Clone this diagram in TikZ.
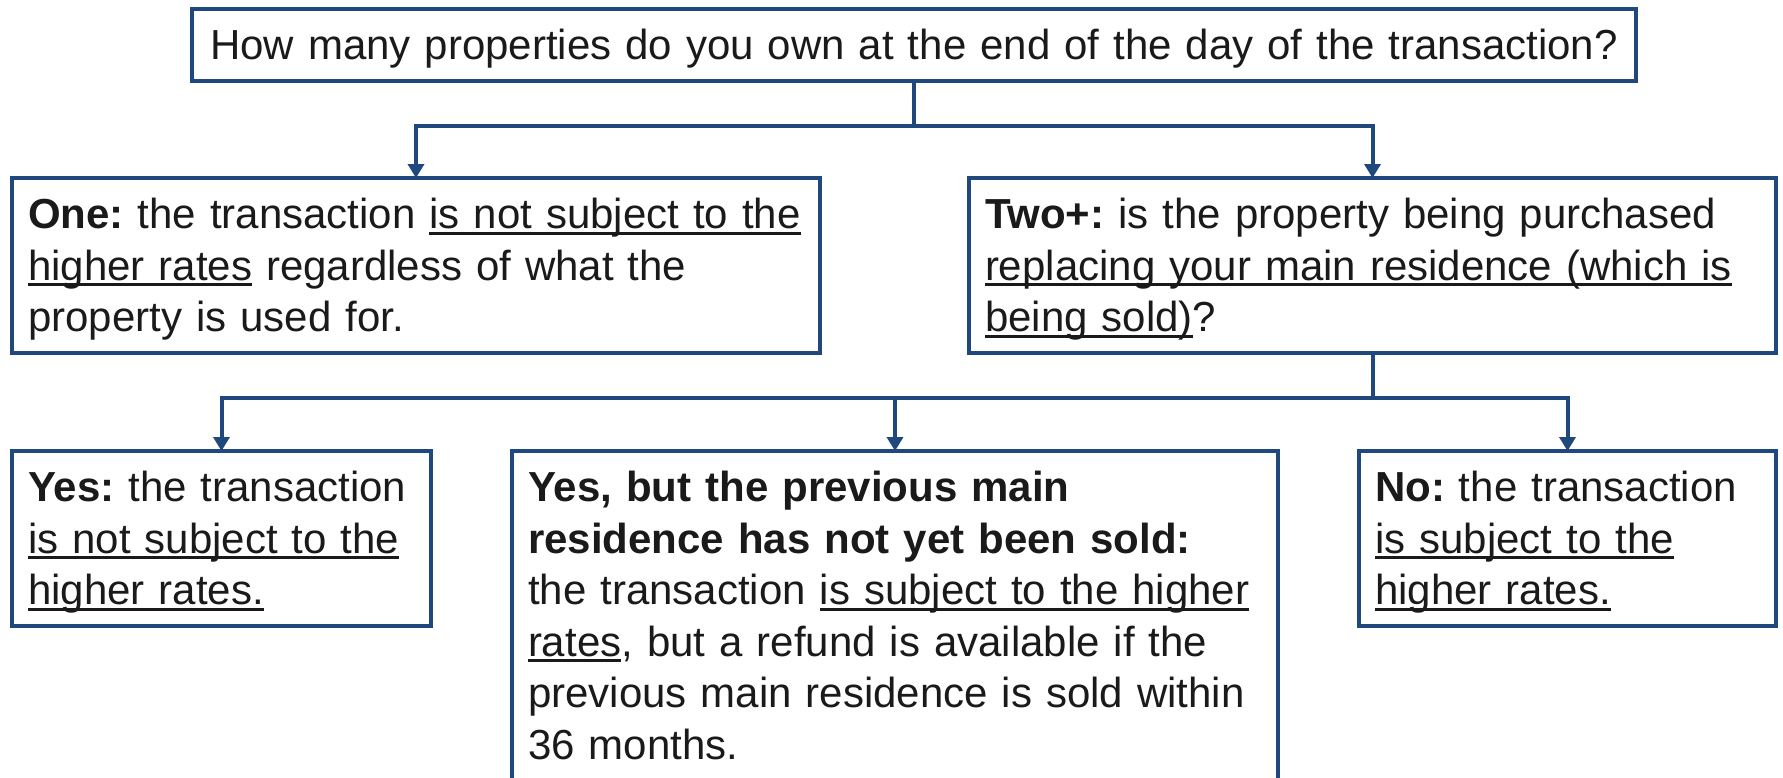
\documentclass[tikz,border=0pt]{standalone}
\usepackage{fontspec}
\setmainfont{Liberation Sans}
\usepackage{tikz}
\usetikzlibrary{arrows.meta}
\definecolor{frame}{RGB}{31,73,125}
\definecolor{ink}{RGB}{26,26,26}
\newsavebox\undlbox
\newcommand{\undl}[1]{\leavevmode\sbox\undlbox{#1}\rlap{\rule[-3pt]{\wd\undlbox}{1.35pt}}\usebox\undlbox}

\begin{document}
\begin{tikzpicture}[x=0.5pt, y=-0.5pt, >={Triangle[length=7pt,width=8pt]}, font=\fontsize{21pt}{25.75pt}\selectfont\frenchspacing,
  qbox/.style={draw=frame, line width=2pt, anchor=north west, outer sep=0pt, inner xsep=8pt, inner ysep=10pt, align=left, text height=15.25pt, text=ink},
  link/.style={->, draw=frame, line width=2pt}]
\path[use as bounding box] (0,0) rectangle (1783,777);

\node(question)[qbox, inner xsep=2pt, text width=718pt, align=center, text depth=0.5pt] at (192,9) {How many properties do you own at the end of the day of the transaction?};
\node(one)[qbox, text width=388pt, text depth=52pt] at (12,178) {\textbf{One:} the transaction \undl{is not subject to the}\\\undl{higher rates} regardless of what the\\property is used for.};
\node(two)[qbox, text width=387.5pt, text depth=52pt] at (969,178) {\textbf{Two+:} is the property being purchased\\\undl{replacing your main residence (which is}\\\undl{being sold)}?};
\node(yes)[qbox, text width=193.5pt, text depth=52pt] at (12,451) {\textbf{Yes:} the transaction\\\undl{is not subject to the}\\\undl{higher rates.}};
\node(notyet)[qbox, text width=367pt, text depth=200pt] at (512,451) {\textbf{Yes, but the previous main}\\\textbf{residence has not yet been sold:}\\the transaction \undl{is subject to the higher}\\\undl{rates}, but a refund is available if the\\previous main residence is sold within\\36 months.};
\node(no)[qbox, text width=192.5pt, text depth=52pt] at (1359,451) {\textbf{No:} the transaction\\\undl{is subject to the}\\\undl{higher rates.}};

\draw[link] (question.south) -- ++(0,45) -| (one.north);
\draw[link] (question.south) -- ++(0,45) -| (two.north);
\draw[link] (two.south) -- ++(0,45) -| (yes.north);
\draw[link] (two.south) -- ++(0,45) -| (notyet.north);
\draw[link] (two.south) -- ++(0,45) -| (no.north);

\end{tikzpicture}
\end{document}
